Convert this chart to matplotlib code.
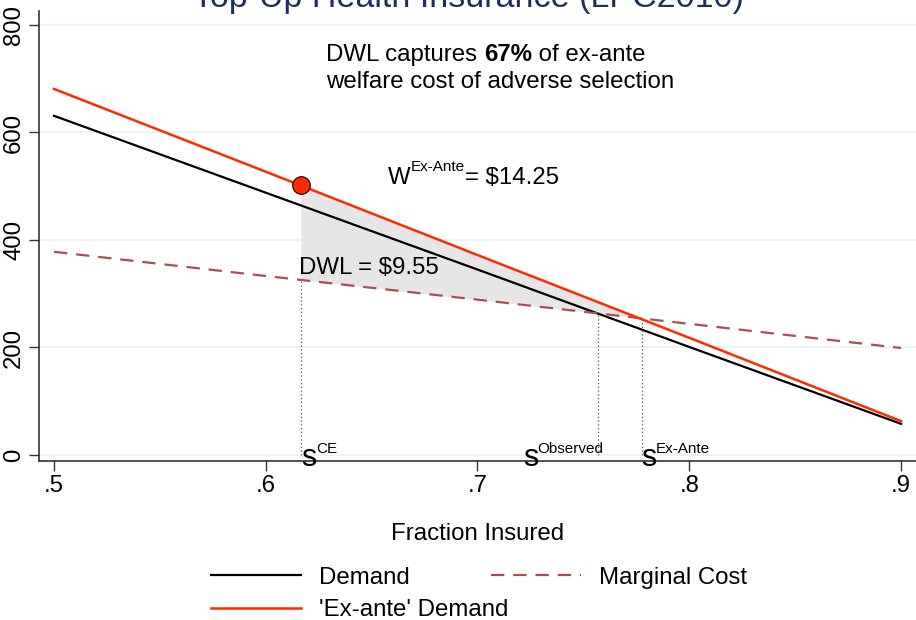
import numpy as np
import matplotlib.pyplot as plt
from matplotlib.lines import Line2D

plt.rcParams['font.family'] = ['Liberation Sans', 'DejaVu Sans']

# fraction insured grid and curves
frac = [0.50, 0.60, 0.70, 0.80, 0.90]
demand = [631, 488, 345, 201, 58]
demand_exante = [681, 527, 372, 218, 63]
marg_cost = [378, 333, 289, 244, 199]

s_ce = 0.6166
s_obs = 0.7570
s_exante = 0.7775
dot_y = 502
mc_at = {s_ce: 326, s_obs: 264, s_exante: 255}

title = "Top-Up Health Insurance (LPC2010)"
xticks = [0.5, 0.6, 0.7, 0.8, 0.9]
xtick_labels = [".5", ".6", ".7", ".8", ".9"]
yticks = [0, 200, 400, 600, 800]

RED = "#ff2a00"
MC_COL = "#ab4e4e"
NAVY = "#1a2f5e"
FS = 17.3
SUP = 11

fig = plt.figure(figsize=(9.16, 6.2), dpi=100, facecolor='white')
ax = fig.add_axes([39/916, 1 - 461/620, 877/916, 450/620])

x = np.array(frac)
# shaded welfare area between ex-ante demand and MC
xf = np.linspace(s_ce, s_exante, 50)
ax.fill_between(xf, np.interp(xf, frac, demand_exante), np.interp(xf, frac, marg_cost),
                color="#e6e6e6", linewidth=0, zorder=1)

for t in yticks:
    ax.axhline(t, color="#eaf2f3", linewidth=1.2, zorder=0)

ax.plot(x, demand, color="black", linewidth=1.6, zorder=3)
ax.plot(x, demand_exante, color=RED, linewidth=1.8, zorder=4)
ax.plot(x, marg_cost, color=MC_COL, linewidth=1.6, dashes=(6, 4), zorder=3)

for s in (s_ce, s_obs, s_exante):
    ax.plot([s, s], [0, mc_at[s]], color="#555555", linestyle=(0, (1, 2)),
            linewidth=0.9, zorder=2)

ax.scatter([s_ce], [dot_y], s=160, color=RED, edgecolor="black", linewidth=0.8, zorder=5)


def after(prev, txt, **kw):
    # place a text right after the previous one on the same baseline
    return ax.annotate(txt, xy=(1, 0), xycoords=prev, va='bottom', ha='left', **kw)


def with_sup(xd, yd, base, sup, rest="", fs=FS, va='center', rise=10.5, gap=0):
    t = ax.text(xd, yd, base, fontsize=fs, va=va, ha='left')
    t2 = ax.annotate(sup, xy=(1, 0), xycoords=t, xytext=(gap, rise),
                     textcoords='offset points', fontsize=SUP, va='bottom', ha='left')
    if rest:
        ax.annotate(rest, xy=(1, 0), xycoords=t2, xytext=(0, -rise),
                    textcoords='offset points', fontsize=fs, va='bottom', ha='left')
    return t


# annotations
t1 = ax.text(0.6285, 744, "DWL captures ", fontsize=FS, va='center')
t2 = after(t1, "67%", fontsize=FS, fontweight='bold')
after(t2, " of ex-ante", fontsize=FS)
ax.text(0.6285, 694, "welfare cost of adverse selection", fontsize=FS, va='center')

with_sup(0.6577, 515, "W", "Ex-Ante", "= $14.25", rise=11)
ax.text(0.6155, 348, "DWL = $9.55", fontsize=FS, va='center')

with_sup(s_ce, -20, "s", "CE", fs=22, va='baseline', rise=12, gap=0)
with_sup(0.7215, -20, "s", "Observed", fs=22, va='baseline', rise=12, gap=-1)
with_sup(s_exante, -20, "s", "Ex-Ante", fs=22, va='baseline', rise=12, gap=-1)

ax.set_xlim(0.4929, 0.9071)
ax.set_ylim(-11.2, 826)
ax.set_xticks(xticks)
ax.set_xticklabels(xtick_labels)
ax.set_yticks(yticks)
ax.tick_params(axis='both', labelsize=FS, length=7, width=1, color="#333333", pad=3)
for lab in ax.get_yticklabels():
    lab.set_rotation(90)
    lab.set_va('center')
ax.set_xlabel("Fraction Insured", fontsize=FS, labelpad=19)
for sp in ['top', 'right']:
    ax.spines[sp].set_visible(False)
for sp in ['left', 'bottom']:
    ax.spines[sp].set_color("#333333")
    ax.spines[sp].set_linewidth(1.2)

fig.text(468/916, 0.988, title, fontsize=24.5, color=NAVY, ha='center', va='baseline')

handles = [
    Line2D([0], [0], color="black", linewidth=1.6, label="Demand"),
    Line2D([0], [0], color=RED, linewidth=1.8, label="'Ex-ante' Demand"),
    Line2D([0], [0], color=MC_COL, linewidth=1.6, dashes=(6, 4), label="Marginal Cost"),
]
fig.legend(handles=handles, ncol=2, loc='center left', bbox_to_anchor=(189/916, 0.042),
           fontsize=FS, frameon=False, handlelength=3.75, columnspacing=-0.7,
           handletextpad=0.75, labelspacing=0.45)

plt.savefig("out.png", dpi=100, facecolor='white')
plt.close(fig)
